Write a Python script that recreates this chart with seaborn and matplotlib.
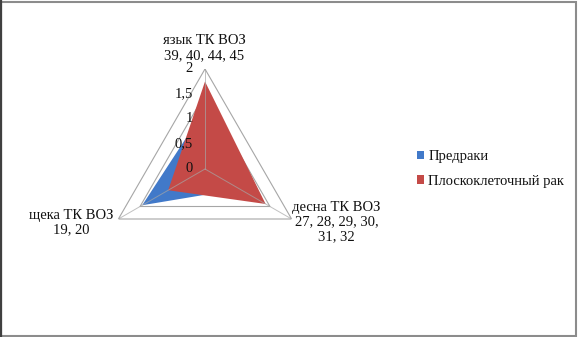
import numpy as np
import matplotlib
matplotlib.use("Agg")
import matplotlib.pyplot as plt
from matplotlib.patches import Patch, Rectangle
from matplotlib.lines import Line2D
import seaborn as sns

# Radar axes (clockwise from the top) and the two series
categories = ["язык ТК ВОЗ\n39, 40, 44, 45",
              "десна ТК ВОЗ\n27, 28, 29, 30,\n31, 32",
              "щека ТК ВОЗ\n19, 20"]
series_names = ["Предраки", "Плоскоклеточный рак"]
premalignant = [1.2, 0.8, 1.45]
carcinoma = [1.75, 1.4, 0.85]
ticks = [0, 0.5, 1, 1.5, 2]
tick_labels = ["0", "0,5", "1", "1,5", "2"]

sns.set_theme(style="white")
plt.rcParams["font.family"] = ["Liberation Serif", "DejaVu Serif"]
FS = 10.5
plt.rcParams["font.size"] = FS

colors = ["#4179c9", "#c44a47"]
grid_color = "#a6a6a6"
text_color = "#111111"

fig = plt.figure(figsize=(5.78, 3.37), dpi=100)
ax = fig.add_axes([105 / 578, 68 / 337, 200 / 578, 200 / 337], projection="polar")
ax.set_theta_offset(np.pi / 2)
ax.set_theta_direction(-1)
ax.set_ylim(0, ticks[-1])

angles = np.arange(len(categories)) * 2 * np.pi / len(categories)
closed = np.append(angles, angles[0])

# triangular grid behind the filled areas
for t in ticks[1:]:
    ax.plot(closed, [t] * len(closed), color=grid_color, lw=0.8, zorder=1)

for vals, c in zip([premalignant, carcinoma], colors):
    ax.fill(closed, vals + vals[:1], color=c, lw=0, zorder=2)

# spokes drawn over the fills
for a in angles:
    ax.plot([a, a], [0, ticks[-1]], color=grid_color, lw=0.7, alpha=0.7, zorder=4)

ax.grid(False)
ax.set_xticks([])
ax.set_yticks([])
ax.spines["polar"].set_visible(False)
ax.patch.set_visible(False)

# value labels along the top spoke
for t, lab in zip(ticks, tick_labels):
    ax.annotate(lab, xy=(0, t), xytext=(-12, 0), textcoords="offset pixels",
                ha="right", va="center", fontsize=FS, color=text_color, zorder=5)

# category labels at the vertices
offsets = [(-1, 21), (45, -3), (-47, -3.5)]
for a, lab, off in zip(angles, categories, offsets):
    ax.annotate(lab, xy=(a, ticks[-1]), xytext=off, textcoords="offset pixels",
                ha="center", va="center", multialignment="center",
                fontsize=FS, color=text_color, linespacing=1.15,
                annotation_clip=False)

handles = [Patch(facecolor=c, edgecolor="none") for c in colors]
fig.legend(handles, series_names, loc="center left",
           bbox_to_anchor=(411 / 578, 1 - 169 / 337), frameon=False,
           handlelength=0.5, handleheight=0.5, handletextpad=0.3,
           labelspacing=0.8, fontsize=FS, borderaxespad=0,
           labelcolor=text_color)

# outer frame of the chart area
fig.patches.append(Rectangle((1 / 578, 1.5 / 337), 575 / 578, 334 / 337,
                             transform=fig.transFigure, fill=False,
                             edgecolor="#8c8c8c", lw=1.5))
fig.lines.append(Line2D([1 / 578, 1 / 578], [0, 1], transform=fig.transFigure,
                        color="#404040", lw=1.6))

fig.savefig("out.png", dpi=100, facecolor="white")
